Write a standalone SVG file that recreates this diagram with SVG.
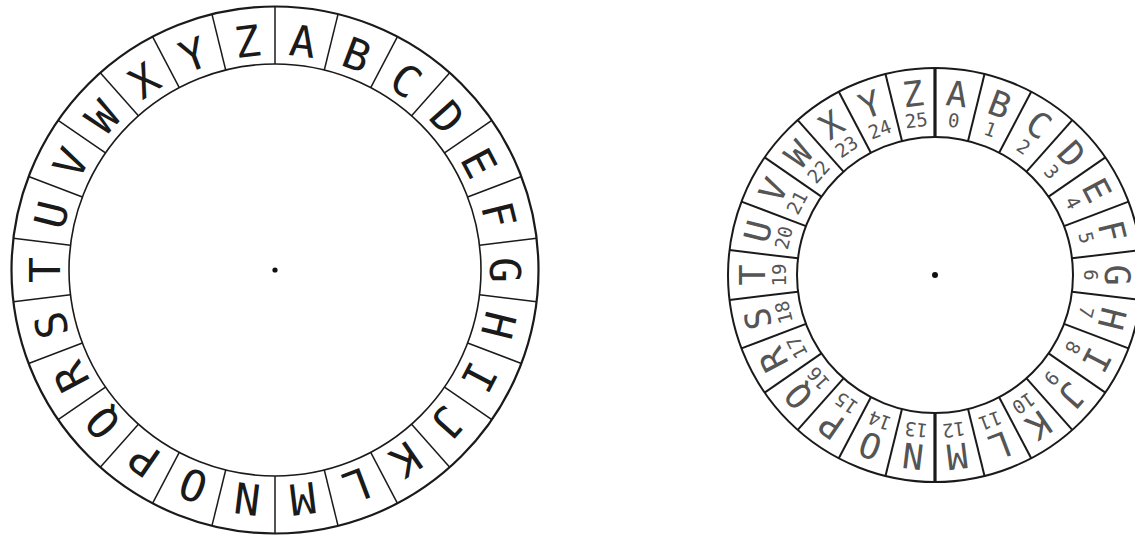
<svg xmlns="http://www.w3.org/2000/svg" width="1135" height="535" viewBox="0 0 1135 535">
<style>
.ring{fill:none;stroke:#1a1a1a}
.div{stroke:#1a1a1a}
.L{font-family:"DejaVu Sans Mono","Liberation Mono",monospace;font-size:43px;fill:#1a1a1a;text-anchor:middle}
.R{font-family:"DejaVu Sans Mono","Liberation Mono",monospace;font-size:35px;fill:#555;text-anchor:middle}
.N{font-family:"DejaVu Sans Mono","Liberation Mono",monospace;font-size:19px;fill:#555;text-anchor:middle}
</style>
<rect width="1135" height="535" fill="#fff"/>
<g id="wheel-left" transform="translate(275,270)">
  <circle class="ring" r="263.5" stroke-width="2.2"/>
  <circle class="ring" r="206" stroke-width="1.6"/>
  <circle r="2.6" fill="#111"/>
  <g id="left-dividers" class="div" stroke-width="1.5">
    <line y1="-206" y2="-263.5" transform="rotate(0)"/>
    <line y1="-206" y2="-263.5" transform="rotate(13.846)"/>
    <line y1="-206" y2="-263.5" transform="rotate(27.692)"/>
    <line y1="-206" y2="-263.5" transform="rotate(41.538)"/>
    <line y1="-206" y2="-263.5" transform="rotate(55.385)"/>
    <line y1="-206" y2="-263.5" transform="rotate(69.231)"/>
    <line y1="-206" y2="-263.5" transform="rotate(83.077)"/>
    <line y1="-206" y2="-263.5" transform="rotate(96.923)"/>
    <line y1="-206" y2="-263.5" transform="rotate(110.769)"/>
    <line y1="-206" y2="-263.5" transform="rotate(124.615)"/>
    <line y1="-206" y2="-263.5" transform="rotate(138.462)"/>
    <line y1="-206" y2="-263.5" transform="rotate(152.308)"/>
    <line y1="-206" y2="-263.5" transform="rotate(166.154)"/>
    <line y1="-206" y2="-263.5" transform="rotate(180)"/>
    <line y1="-206" y2="-263.5" transform="rotate(193.846)"/>
    <line y1="-206" y2="-263.5" transform="rotate(207.692)"/>
    <line y1="-206" y2="-263.5" transform="rotate(221.538)"/>
    <line y1="-206" y2="-263.5" transform="rotate(235.385)"/>
    <line y1="-206" y2="-263.5" transform="rotate(249.231)"/>
    <line y1="-206" y2="-263.5" transform="rotate(263.077)"/>
    <line y1="-206" y2="-263.5" transform="rotate(276.923)"/>
    <line y1="-206" y2="-263.5" transform="rotate(290.769)"/>
    <line y1="-206" y2="-263.5" transform="rotate(304.615)"/>
    <line y1="-206" y2="-263.5" transform="rotate(318.462)"/>
    <line y1="-206" y2="-263.5" transform="rotate(332.308)"/>
    <line y1="-206" y2="-263.5" transform="rotate(346.154)"/>
  </g>
  <g id="left-A" transform="rotate(6.923)"><text class="L" y="-215">A</text></g>
  <g id="left-B" transform="rotate(20.769)"><text class="L" y="-215">B</text></g>
  <g id="left-C" transform="rotate(34.615)"><text class="L" y="-215">C</text></g>
  <g id="left-D" transform="rotate(48.462)"><text class="L" y="-215">D</text></g>
  <g id="left-E" transform="rotate(62.308)"><text class="L" y="-215">E</text></g>
  <g id="left-F" transform="rotate(76.154)"><text class="L" y="-215">F</text></g>
  <g id="left-G" transform="rotate(90)"><text class="L" y="-215">G</text></g>
  <g id="left-H" transform="rotate(103.846)"><text class="L" y="-215">H</text></g>
  <g id="left-I" transform="rotate(117.692)"><text class="L" y="-215">I</text></g>
  <g id="left-J" transform="rotate(131.538)"><text class="L" y="-215">J</text></g>
  <g id="left-K" transform="rotate(145.385)"><text class="L" y="-215">K</text></g>
  <g id="left-L" transform="rotate(159.231)"><text class="L" y="-215">L</text></g>
  <g id="left-M" transform="rotate(173.077)"><text class="L" y="-215">M</text></g>
  <g id="left-N" transform="rotate(186.923)"><text class="L" y="-215">N</text></g>
  <g id="left-O" transform="rotate(200.769)"><text class="L" y="-215">O</text></g>
  <g id="left-P" transform="rotate(214.615)"><text class="L" y="-215">P</text></g>
  <g id="left-Q" transform="rotate(228.462)"><text class="L" y="-215">Q</text></g>
  <g id="left-R" transform="rotate(242.308)"><text class="L" y="-215">R</text></g>
  <g id="left-S" transform="rotate(256.154)"><text class="L" y="-215">S</text></g>
  <g id="left-T" transform="rotate(270)"><text class="L" y="-215">T</text></g>
  <g id="left-U" transform="rotate(283.846)"><text class="L" y="-215">U</text></g>
  <g id="left-V" transform="rotate(297.692)"><text class="L" y="-215">V</text></g>
  <g id="left-W" transform="rotate(311.538)"><text class="L" y="-215">W</text></g>
  <g id="left-X" transform="rotate(325.385)"><text class="L" y="-215">X</text></g>
  <g id="left-Y" transform="rotate(339.231)"><text class="L" y="-215">Y</text></g>
  <g id="left-Z" transform="rotate(353.077)"><text class="L" y="-215">Z</text></g>
</g>
<g id="wheel-right" transform="translate(935,275)">
  <circle class="ring" r="207" stroke-width="2"/>
  <circle class="ring" r="138" stroke-width="2"/>
  <circle r="3" fill="#111"/>
  <g id="right-dividers" class="div" stroke-width="2">
    <line y1="-138" y2="-207" stroke-width="3.2" transform="rotate(0)"/>
    <line y1="-138" y2="-207" transform="rotate(13.846)"/>
    <line y1="-138" y2="-207" transform="rotate(27.692)"/>
    <line y1="-138" y2="-207" transform="rotate(41.538)"/>
    <line y1="-138" y2="-207" transform="rotate(55.385)"/>
    <line y1="-138" y2="-207" transform="rotate(69.231)"/>
    <line y1="-138" y2="-207" transform="rotate(83.077)"/>
    <line y1="-138" y2="-207" transform="rotate(96.923)"/>
    <line y1="-138" y2="-207" transform="rotate(110.769)"/>
    <line y1="-138" y2="-207" transform="rotate(124.615)"/>
    <line y1="-138" y2="-207" transform="rotate(138.462)"/>
    <line y1="-138" y2="-207" transform="rotate(152.308)"/>
    <line y1="-138" y2="-207" transform="rotate(166.154)"/>
    <line y1="-138" y2="-207" stroke-width="3.2" transform="rotate(180)"/>
    <line y1="-138" y2="-207" transform="rotate(193.846)"/>
    <line y1="-138" y2="-207" transform="rotate(207.692)"/>
    <line y1="-138" y2="-207" transform="rotate(221.538)"/>
    <line y1="-138" y2="-207" transform="rotate(235.385)"/>
    <line y1="-138" y2="-207" transform="rotate(249.231)"/>
    <line y1="-138" y2="-207" transform="rotate(263.077)"/>
    <line y1="-138" y2="-207" transform="rotate(276.923)"/>
    <line y1="-138" y2="-207" transform="rotate(290.769)"/>
    <line y1="-138" y2="-207" transform="rotate(304.615)"/>
    <line y1="-138" y2="-207" transform="rotate(318.462)"/>
    <line y1="-138" y2="-207" transform="rotate(332.308)"/>
    <line y1="-138" y2="-207" transform="rotate(346.154)"/>
  </g>
  <g id="right-A" transform="rotate(6.923)"><text class="R" y="-170">A</text><text class="N" y="-149">0</text></g>
  <g id="right-B" transform="rotate(20.769)"><text class="R" y="-170">B</text><text class="N" y="-149">1</text></g>
  <g id="right-C" transform="rotate(34.615)"><text class="R" y="-170">C</text><text class="N" y="-149">2</text></g>
  <g id="right-D" transform="rotate(48.462)"><text class="R" y="-170">D</text><text class="N" y="-149">3</text></g>
  <g id="right-E" transform="rotate(62.308)"><text class="R" y="-170">E</text><text class="N" y="-149">4</text></g>
  <g id="right-F" transform="rotate(76.154)"><text class="R" y="-170">F</text><text class="N" y="-149">5</text></g>
  <g id="right-G" transform="rotate(90)"><text class="R" y="-170">G</text><text class="N" y="-149">6</text></g>
  <g id="right-H" transform="rotate(103.846)"><text class="R" y="-170">H</text><text class="N" y="-149">7</text></g>
  <g id="right-I" transform="rotate(117.692)"><text class="R" y="-170">I</text><text class="N" y="-149">8</text></g>
  <g id="right-J" transform="rotate(131.538)"><text class="R" y="-170">J</text><text class="N" y="-149">9</text></g>
  <g id="right-K" transform="rotate(145.385)"><text class="R" y="-170">K</text><text class="N" y="-149">10</text></g>
  <g id="right-L" transform="rotate(159.231)"><text class="R" y="-170">L</text><text class="N" y="-149">11</text></g>
  <g id="right-M" transform="rotate(173.077)"><text class="R" y="-170">M</text><text class="N" y="-149">12</text></g>
  <g id="right-N" transform="rotate(186.923)"><text class="R" y="-170">N</text><text class="N" y="-149">13</text></g>
  <g id="right-O" transform="rotate(200.769)"><text class="R" y="-170">O</text><text class="N" y="-149">14</text></g>
  <g id="right-P" transform="rotate(214.615)"><text class="R" y="-170">P</text><text class="N" y="-149">15</text></g>
  <g id="right-Q" transform="rotate(228.462)"><text class="R" y="-170">Q</text><text class="N" y="-149">16</text></g>
  <g id="right-R" transform="rotate(242.308)"><text class="R" y="-170">R</text><text class="N" y="-149">17</text></g>
  <g id="right-S" transform="rotate(256.154)"><text class="R" y="-170">S</text><text class="N" y="-149">18</text></g>
  <g id="right-T" transform="rotate(270)"><text class="R" y="-170">T</text><text class="N" y="-149">19</text></g>
  <g id="right-U" transform="rotate(283.846)"><text class="R" y="-170">U</text><text class="N" y="-149">20</text></g>
  <g id="right-V" transform="rotate(297.692)"><text class="R" y="-170">V</text><text class="N" y="-149">21</text></g>
  <g id="right-W" transform="rotate(311.538)"><text class="R" y="-170">W</text><text class="N" y="-149">22</text></g>
  <g id="right-X" transform="rotate(325.385)"><text class="R" y="-170">X</text><text class="N" y="-149">23</text></g>
  <g id="right-Y" transform="rotate(339.231)"><text class="R" y="-170">Y</text><text class="N" y="-149">24</text></g>
  <g id="right-Z" transform="rotate(353.077)"><text class="R" y="-170">Z</text><text class="N" y="-149">25</text></g>
</g>
</svg>
